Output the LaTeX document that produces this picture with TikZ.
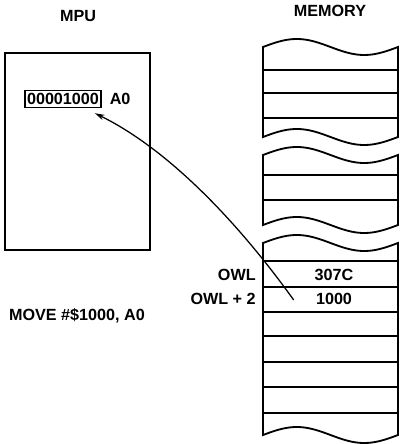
\documentclass[tikz,border=0pt]{standalone}
\usepackage{fontspec}
\setmainfont{Liberation Sans}
\usepackage{tikz}
\usetikzlibrary{positioning}
\usetikzlibrary{calc}
\usetikzlibrary{arrows.meta}

\begin{document}
\begin{tikzpicture}[x=0.025cm, y=-0.025cm, line width=1.3pt,
    every node/.style={font=\fontsize{11.5}{13}\selectfont\bfseries, inner sep=1pt},
    cell/.style={draw=none},
    reg/.style={draw, line width=1.1pt, minimum height=12pt, inner xsep=1.5pt}]

        \useasboundingbox (0,0) rectangle (400,444);

        \def\ml{263} % left side of the memory strips
        \def\mw{135} % width of the memory strips
        \def\amp{8} % height of the torn edges

        % titles
        \node (mpu) at (78,16) {MPU};
        \node (mem) at (330,11) {MEMORY};

        % processor with register A0
        \draw (5,53) rectangle (150,250);
        \node[reg] (a0reg) at (63,99) {00001000};
        \node[right=4pt of a0reg] (a0) {A0};
        \node (instr) at (77,316) {MOVE \#\$1000, A0};

        % memory strips: top edge, bottom edge
        \foreach \t/\b in {47/137, 155/225, 243/435} {
          \draw plot[domain=0:1, samples=30, smooth] ({\ml+\x*\mw},{\t-\amp*sin(360*\x)})
            -- plot[domain=1:0, samples=30, smooth] ({\ml+\x*\mw},{\b-\amp*sin(360*\x)}) -- cycle;
        }
        \foreach \y in {70, 93, 118, 175, 200, 261, 287, 312, 336, 362, 387, 413} {
          \draw (\ml,\y) -- ++(\mw,0);
        }

        % words at OWL
        \node[anchor=east] (owl) at (258,275) {OWL};
        \node[anchor=east] (owltwo) at (258,299) {OWL + 2};
        \node[cell] (hi) at (334,275) {307C};
        \node[cell] (lo) at (334,299) {1000};

        \coordinate (src) at ($(lo.west)+(-20,1)$);
        \coordinate (tip) at ($(a0reg.south east)+(-7,5)$);
        \draw[line width=0.9pt, -{Stealth[length=7pt, width=4pt]}] (src) .. controls (240,225) and (170,150) .. (tip);

      \end{tikzpicture}
\end{document}
